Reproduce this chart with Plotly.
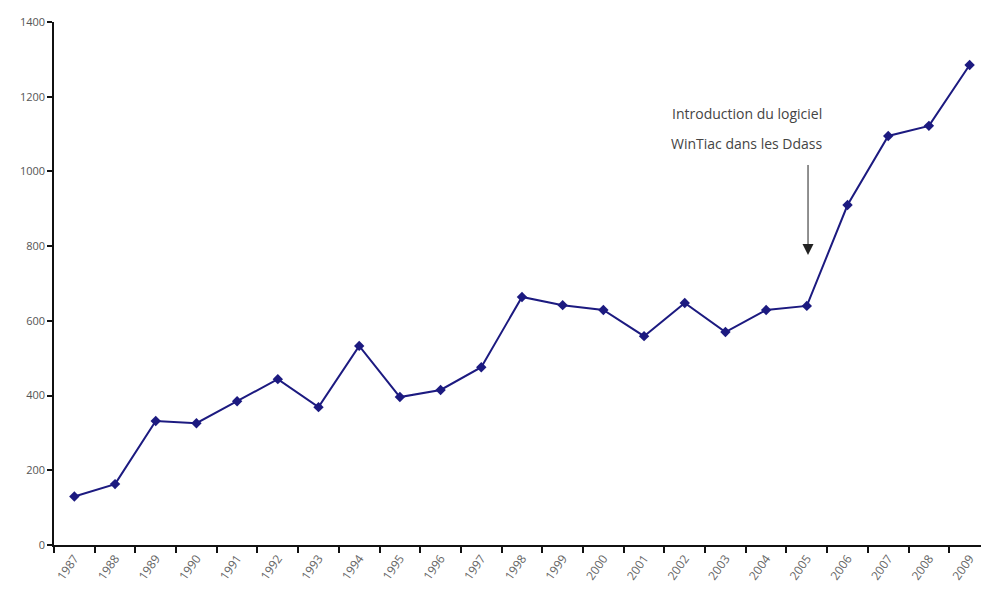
import plotly.graph_objects as go

# Yearly counts, 1987-2009
years = [str(y) for y in range(1987, 2010)]
counts = [130, 163, 332, 326, 385, 444, 369, 533, 396, 415, 476, 664,
          642, 629, 559, 648, 570, 629, 640, 910, 1095, 1122, 1285]

y_ticks = [0, 200, 400, 600, 800, 1000, 1200, 1400]

note_lines = ["Introduction du logiciel", "WinTiac dans les Ddass"]

label_font = "Liberation Sans Narrow, Arial Narrow, Open Sans, sans-serif"

fig = go.Figure()
fig.add_trace(go.Scatter(
    x=years, y=counts,
    mode="lines+markers",
    line=dict(color="#1c1a80", width=2),
    marker=dict(symbol="diamond", size=8, color="#1c1a80"),
    showlegend=False,
    hoverinfo="x+y",
))

# Annotation arrow pointing down toward 2005
fig.add_annotation(
    x=0.8134, y=0.5545, xref="paper", yref="paper",
    ax=0, ay=-100, axref="pixel", ayref="pixel",
    showarrow=True, arrowhead=2, arrowsize=2.2, arrowwidth=1,
    arrowcolor="#222222",
    text=" ",
)
for line, ypos in zip(note_lines, [0.826, 0.767]):
    fig.add_annotation(
        x=0.7476, y=ypos, xref="paper", yref="paper",
        text=line, showarrow=False,
        font=dict(family=label_font, size=14, color="#444444"),
        xanchor="center", yanchor="middle",
    )

fig.update_layout(
    width=981, height=608,
    margin=dict(l=54, r=0, t=22, b=63),
    paper_bgcolor="white", plot_bgcolor="white",
    xaxis=dict(
        type="category",
        range=[-0.5, 22.28],
        tickson="boundaries",
        ticks="outside", ticklen=6, tickwidth=1.5, tickcolor="#111111",
        showline=True, linecolor="#111111", linewidth=1.5,
        showgrid=False, zeroline=False,
        tickangle=-55,
        tickfont=dict(family=label_font, size=12, color="#666666"),
    ),
    yaxis=dict(
        range=[0, 1400],
        tickvals=y_ticks,
        ticks="outside", ticklen=5, tickwidth=1.5, tickcolor="#111111",
        showline=True, linecolor="#111111", linewidth=1.5,
        showgrid=False, zeroline=False,
        tickfont=dict(family=label_font, size=11, color="#555555"),
    ),
)

fig.write_html("out.html")
